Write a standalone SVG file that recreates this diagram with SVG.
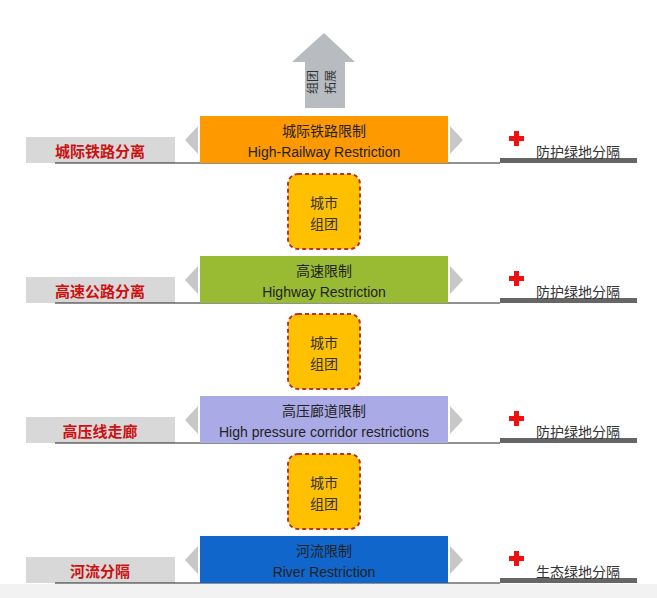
<svg xmlns="http://www.w3.org/2000/svg" width="657" height="598" viewBox="0 0 657 598">
<style>
text{font-family:"Liberation Sans","Noto Sans CJK SC",sans-serif;text-anchor:middle}
.lab{fill:#d8d8d8}
.red{fill:#cc1111;font-weight:bold;font-size:15px}
.tri{fill:#c8c8c8}
.ln{stroke:#222;stroke-width:1.2}
.bar{fill:#666}
.cross{fill:#ee1111}
.gt{fill:#333;font-size:14px;text-anchor:start}
.bt{font-size:14px;fill:#222}
.city{fill:#ffc000;stroke:#c0302a;stroke-width:2;stroke-dasharray:4 3}
.ct{font-size:14px;fill:#333}
</style>
<defs>
<g id="row">
<rect class="lab" x="26" y="21" width="149" height="26"/>
<line class="ln" x1="55" y1="47" x2="500" y2="47"/>
<polygon class="tri" points="198,10 198,38 185,24"/>
<polygon class="tri" points="450,10 450,38 463,24"/>
<rect class="bar" x="500" y="42" width="137" height="5"/>
<path class="cross" d="M514,15h5v5h5v5h-5v5h-5v-5h-5v-5h5z"/>
</g>
</defs>
<rect width="657" height="598" fill="#fff"/>
<rect x="0" y="584" width="657" height="14" fill="#f2f2f2"/>
<g id="expand">
<polygon points="324,33 355,62 345,62 345,108 305,108 305,62 292,62" fill="#b8bcc0"/>
<text x="317" y="82" font-size="12" fill="#333" transform="rotate(-90 317 82)">组团</text>
<text x="335" y="82" font-size="12" fill="#333" transform="rotate(-90 335 82)">拓展</text>
</g>
<g id="connectors"></g>
<g id="row1">
<use href="#row" y="116"/>
<rect x="200" y="116" width="248" height="47" fill="#ff9900"/>
<text class="bt" x="324" y="136">城际铁路限制</text>
<text class="bt" x="324" y="157">High-Railway Restriction</text>
<text class="red" x="100" y="157">城际铁路分离</text>
<text class="gt" x="536" y="157">防护绿地分隔</text>
</g>
<g id="row2">
<use href="#row" y="256"/>
<rect x="200" y="256" width="248" height="47" fill="#99bb33"/>
<text class="bt" x="324" y="276">高速限制</text>
<text class="bt" x="324" y="297">Highway Restriction</text>
<text class="red" x="100" y="297">高速公路分离</text>
<text class="gt" x="536" y="297">防护绿地分隔</text>
</g>
<g id="row3">
<use href="#row" y="396"/>
<rect x="200" y="396" width="248" height="47" fill="#aaaae6"/>
<text class="bt" x="324" y="416">高压廊道限制</text>
<text class="bt" x="324" y="437">High pressure corridor restrictions</text>
<text class="red" x="100" y="437">高压线走廊</text>
<text class="gt" x="536" y="437">防护绿地分隔</text>
</g>
<g id="row4">
<use href="#row" y="536"/>
<rect x="200" y="536" width="248" height="47" fill="#1166cc"/>
<text class="bt" x="324" y="556">河流限制</text>
<text class="bt" x="324" y="577">River Restriction</text>
<text class="red" x="100" y="577">河流分隔</text>
<text class="gt" x="536" y="577">生态绿地分隔</text>
</g>
<g id="city1"><rect class="city" x="288" y="174" width="72" height="75" rx="10"/><text class="ct" x="324" y="208">城市</text><text class="ct" x="324" y="229">组团</text></g>
<g id="city2"><rect class="city" x="288" y="314" width="72" height="75" rx="10"/><text class="ct" x="324" y="348">城市</text><text class="ct" x="324" y="369">组团</text></g>
<g id="city3"><rect class="city" x="288" y="454" width="72" height="75" rx="10"/><text class="ct" x="324" y="488">城市</text><text class="ct" x="324" y="509">组团</text></g>
</svg>
